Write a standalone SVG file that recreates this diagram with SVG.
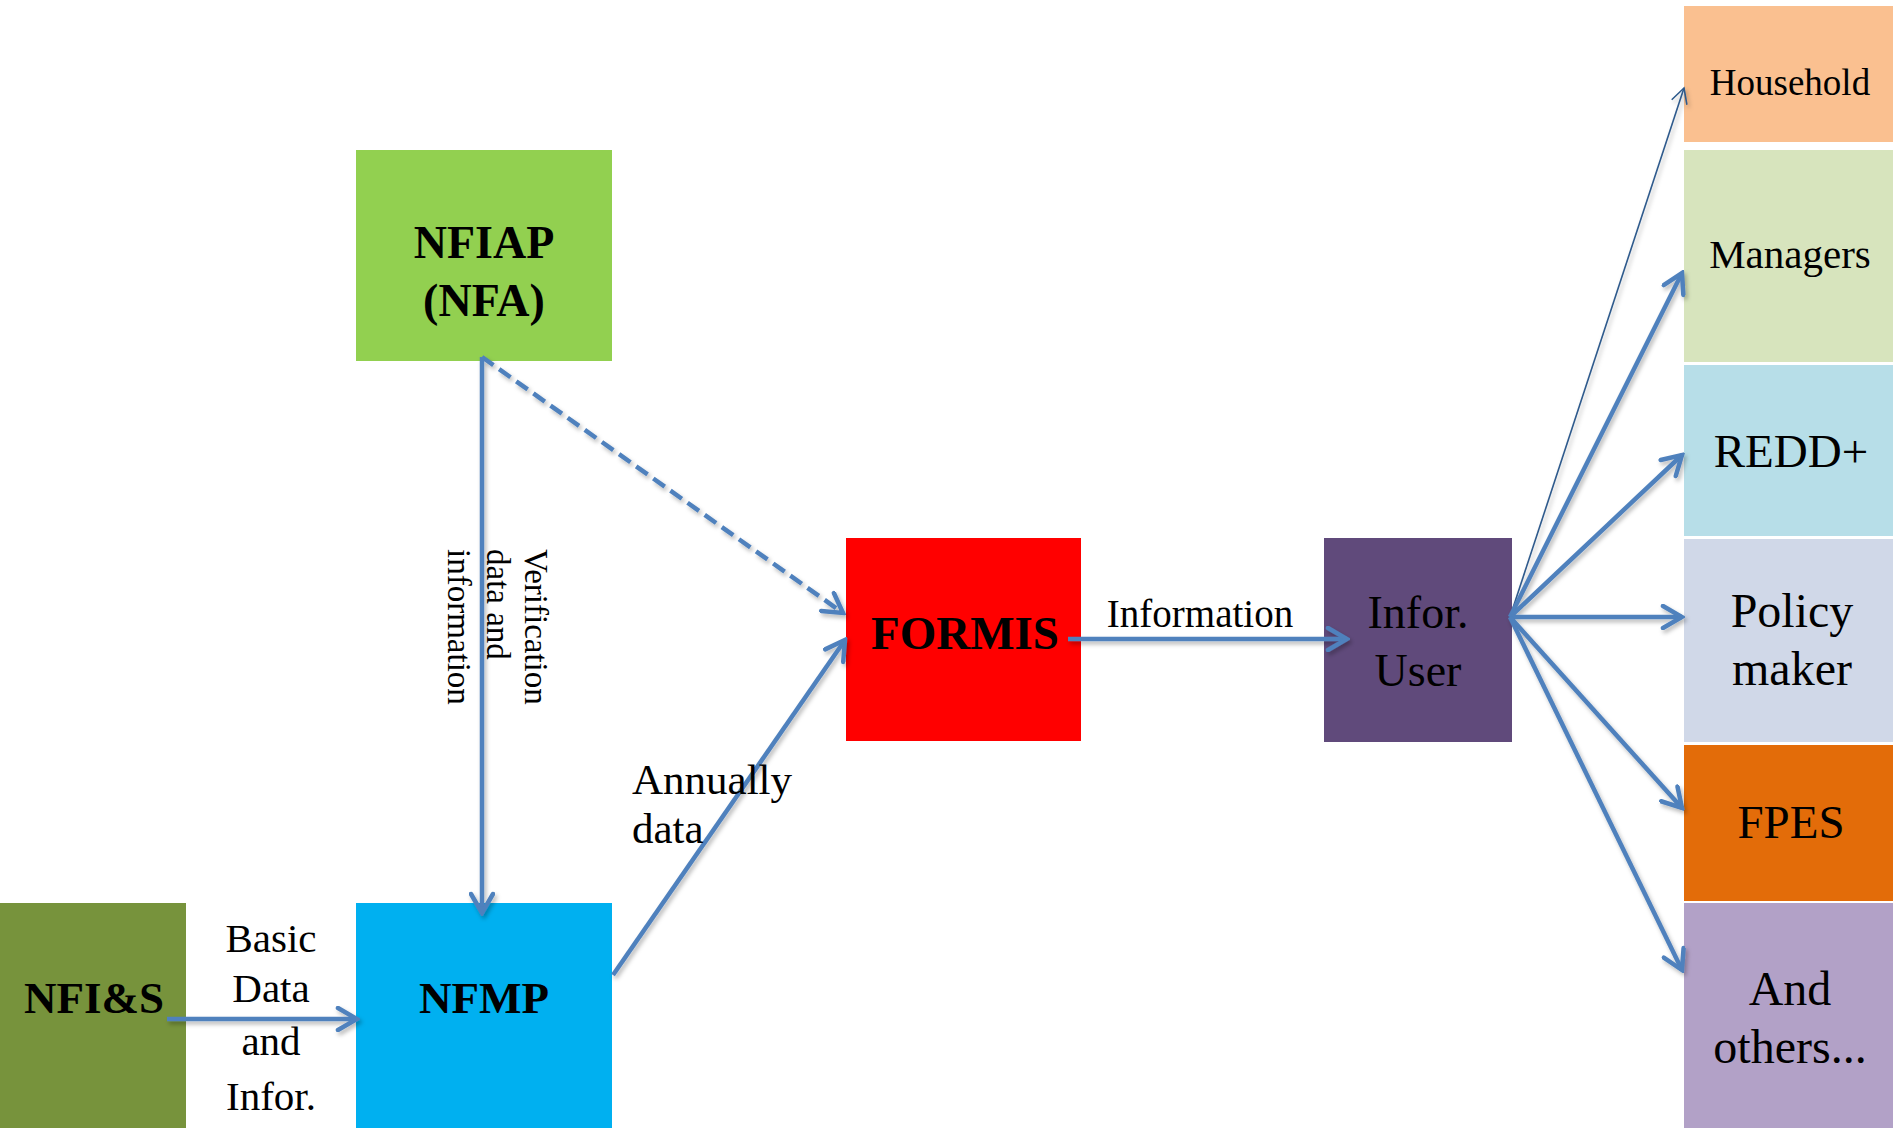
<svg xmlns="http://www.w3.org/2000/svg" width="1893" height="1128" viewBox="0 0 1893 1128">
<style>
  .t{font-family:"Liberation Serif","Times New Roman",serif;fill:#000;text-anchor:middle}
  .b{font-weight:bold}
  .c{fill:none;stroke:#4F81BD;stroke-width:4.5}
  .thin{fill:none;stroke:#2E5A8C;stroke-width:1.6}
</style>
<defs>
  <filter id="sh" filterUnits="userSpaceOnUse" x="0" y="0" width="1893" height="1128">
    <feDropShadow dx="2" dy="3" stdDeviation="2" flood-color="#000" flood-opacity="0.28"/>
  </filter>
  <marker id="ah" viewBox="0 0 26 26" refX="23" refY="13" markerWidth="26" markerHeight="26" markerUnits="userSpaceOnUse" orient="auto">
    <path d="M4,2 L23,13 L4,24" fill="none" stroke="#4F81BD" stroke-width="4.5" stroke-linecap="round" stroke-linejoin="miter"/>
  </marker>
  <marker id="ahs" viewBox="0 0 20 20" refX="18" refY="10" markerWidth="20" markerHeight="20" markerUnits="userSpaceOnUse" orient="auto">
    <path d="M3,2 L18,10 L3,18" fill="none" stroke="#2E5A8C" stroke-width="1.6"/>
  </marker>
</defs>
<rect width="1893" height="1128" fill="#fff"/>

<g id="nfiap"><rect x="356" y="150" width="256" height="211" fill="#92D050"/>
  <text class="t b" x="484" y="258" font-size="46">NFIAP</text>
  <text class="t b" x="484" y="316" font-size="46">(NFA)</text></g>
<g id="nfis"><rect x="0" y="903" width="186" height="225" fill="#77933C"/>
  <text class="t b" x="94" y="1013" font-size="45">NFI&amp;S</text></g>
<g id="nfmp"><rect x="356" y="903" width="256" height="225" fill="#00B0F0"/>
  <text class="t b" x="484" y="1013" font-size="45">NFMP</text></g>
<g id="formis"><rect x="846" y="538" width="235" height="203" fill="#FF0000"/>
  <text class="t b" x="965" y="649" font-size="47">FORMIS</text></g>
<g id="inforuser"><rect x="1324" y="538" width="188" height="204" fill="#604A7B"/>
  <text class="t" x="1418" y="628" font-size="46">Infor.</text>
  <text class="t" x="1418" y="686" font-size="46">User</text></g>
<g id="household"><rect x="1684" y="6" width="209" height="136" fill="#FAC090"/>
  <text class="t" x="1790" y="95" font-size="37">Household</text></g>
<g id="managers"><rect x="1684" y="150" width="209" height="212" fill="#D7E4BD"/>
  <text class="t" x="1790" y="268" font-size="41">Managers</text></g>
<g id="redd"><rect x="1684" y="365" width="209" height="171" fill="#B7DEE8"/>
  <text class="t" x="1791" y="467" font-size="47">REDD+</text></g>
<g id="policy"><rect x="1684" y="539" width="209" height="203" fill="#D0D8E8"/>
  <text class="t" x="1792" y="627" font-size="48">Policy</text>
  <text class="t" x="1792" y="685" font-size="48">maker</text></g>
<g id="fpes"><rect x="1684" y="745" width="209" height="156" fill="#E36C09"/>
  <text class="t" x="1791" y="838" font-size="47">FPES</text></g>
<g id="others"><rect x="1684" y="903" width="209" height="225" fill="#B2A1C7"/>
  <text class="t" x="1790" y="1005" font-size="48">And</text>
  <text class="t" x="1790" y="1063" font-size="48">others...</text></g>

<g id="connectors" filter="url(#sh)">
  <line class="c" x1="482" y1="357" x2="843" y2="613" stroke-dasharray="14,7" marker-end="url(#ah)"/>
  <line class="c" x1="482" y1="357" x2="482" y2="913" marker-end="url(#ah)"/>
  <line class="c" x1="167" y1="1019" x2="357" y2="1019" marker-end="url(#ah)"/>
  <line class="c" x1="613" y1="975" x2="845" y2="640" marker-end="url(#ah)"/>
  <line class="c" x1="1068" y1="639" x2="1347" y2="639" marker-end="url(#ah)"/>
  <line class="thin" x1="1510" y1="617" x2="1684" y2="88" marker-end="url(#ahs)"/>
  <line class="c" x1="1510" y1="617" x2="1682" y2="273" marker-end="url(#ah)"/>
  <line class="c" x1="1510" y1="617" x2="1682" y2="455" marker-end="url(#ah)"/>
  <line class="c" x1="1510" y1="617" x2="1682" y2="617" marker-end="url(#ah)"/>
  <line class="c" x1="1510" y1="617" x2="1682" y2="808" marker-end="url(#ah)"/>
  <line class="c" x1="1510" y1="617" x2="1682" y2="970" marker-end="url(#ah)"/>
</g>

<g id="labels">
  <text class="t" x="271" y="952" font-size="41">Basic</text>
  <text class="t" x="271" y="1002" font-size="41">Data</text>
  <text class="t" x="271" y="1055" font-size="41">and</text>
  <text class="t" x="271" y="1110" font-size="41">Infor.</text>
  <text class="t" x="1200" y="627" font-size="39">Information</text>
  <text class="t" x="632" y="794" font-size="43" style="text-anchor:start">Annually</text>
  <text class="t" x="632" y="843" font-size="43" style="text-anchor:start">data</text>
  <text class="t" font-size="33" style="text-anchor:start" transform="translate(525,549) rotate(90)">Verification</text>
  <text class="t" font-size="33" style="text-anchor:start" transform="translate(487,549) rotate(90)">data and</text>
  <text class="t" font-size="33" style="text-anchor:start" transform="translate(448,549) rotate(90)">information</text>
</g>
</svg>
